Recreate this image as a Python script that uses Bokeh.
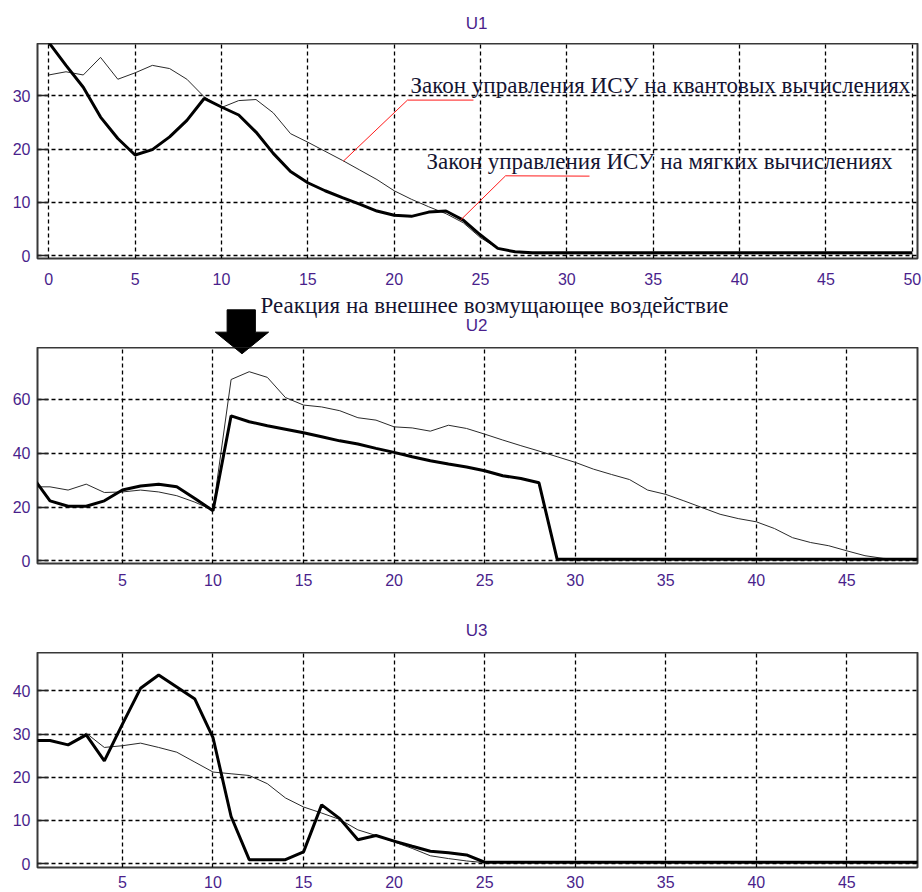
from bokeh.plotting import figure
from bokeh.layouts import column
from bokeh.models import Range1d, FixedTicker, Label
from bokeh.embed import file_html
from bokeh.resources import INLINE

# ---- U1: control law, time steps 0..50 ----
u1_t = list(range(0, 51))
u1_quantum = [33.9, 34.5, 33.9, 37.2, 33.1, 34.3, 35.7, 35.1, 33.1, 29.8,
              27.8, 29.1, 29.3, 26.8, 22.9, 21.3, 19.6, 17.9, 16.1, 14.3,
              12.2, 10.6, 9.2, 7.9, 6.2, 3.4, 1.4, 0.7, 0.4, 0.4,
              0.4, 0.4, 0.4, 0.4, 0.4, 0.4, 0.4, 0.4, 0.4, 0.4,
              0.4, 0.4, 0.4, 0.4, 0.4, 0.4, 0.4, 0.4, 0.4, 0.4, 0.4]
u1_soft = [40.0, 35.7, 31.6, 26.0, 22.0, 18.9, 19.9, 22.3, 25.4, 29.5,
           27.9, 26.4, 23.2, 19.2, 15.8, 13.7, 12.2, 10.9, 9.7, 8.4,
           7.6, 7.4, 8.2, 8.4, 6.7, 3.9, 1.4, 0.75, 0.6, 0.6,
           0.6, 0.6, 0.6, 0.6, 0.6, 0.6, 0.6, 0.6, 0.6, 0.6,
           0.6, 0.6, 0.6, 0.6, 0.6, 0.6, 0.6, 0.6, 0.6, 0.6, 0.6]

# ---- U2: response to an external disturbance, time steps 0..49 ----
u2_t = list(range(0, 50))
u2_quantum = [27.5, 27.5, 26.3, 28.5, 25.4, 25.6, 26.3, 25.6, 24.2, 21.8,
              18.8, 67.4, 70.3, 68.2, 60.7, 57.9, 57.2, 55.8, 53.2, 52.3,
              49.8, 49.4, 48.2, 50.4, 49.2, 47.1, 44.9, 42.8, 40.8, 38.7,
              36.6, 34.1, 32.1, 30.2, 26.3, 24.7, 22.3, 19.8, 17.3, 15.7,
              14.5, 12.0, 8.6, 6.8, 5.6, 3.7, 1.9, 0.9, 0.6, 0.6]
u2_soft = [31.5, 22.3, 20.3, 20.3, 22.3, 26.3, 27.8, 28.5, 27.5, 23.2,
           18.6, 53.9, 51.7, 50.2, 48.9, 47.6, 46.1, 44.6, 43.4, 41.8,
           40.3, 38.7, 37.2, 36.0, 34.9, 33.5, 31.6, 30.6, 29.0, 0.6,
           0.6, 0.6, 0.6, 0.6, 0.6, 0.6, 0.6, 0.6, 0.6, 0.6,
           0.6, 0.6, 0.6, 0.6, 0.6, 0.6, 0.6, 0.6, 0.6, 0.6]

# ---- U3: time steps 0..49 ----
u3_t = list(range(0, 50))
u3_quantum = [28.5, 28.6, 27.5, 30.2, 26.9, 27.3, 27.9, 26.9, 25.8, 23.5,
              21.2, 20.8, 20.4, 18.5, 15.2, 13.1, 11.7, 10.2, 7.8, 6.5,
              5.0, 3.5, 1.8, 1.15, 0.6, 0.2, 0.2, 0.2, 0.2, 0.2,
              0.2, 0.2, 0.2, 0.2, 0.2, 0.2, 0.2, 0.2, 0.2, 0.2,
              0.2, 0.2, 0.2, 0.2, 0.2, 0.2, 0.2, 0.2, 0.2, 0.2]
u3_soft = [28.5, 28.5, 27.5, 29.8, 23.8, 32.3, 40.6, 43.7, 40.9, 38.1,
           29.2, 10.9, 0.9, 0.9, 0.9, 2.7, 13.6, 10.4, 5.5, 6.5,
           5.2, 4.0, 2.85, 2.5, 2.0, 0.3, 0.3, 0.3, 0.3, 0.3,
           0.3, 0.3, 0.3, 0.3, 0.3, 0.3, 0.3, 0.3, 0.3, 0.3,
           0.3, 0.3, 0.3, 0.3, 0.3, 0.3, 0.3, 0.3, 0.3, 0.3]

u1_xticks = [0, 5, 10, 15, 20, 25, 30, 35, 40, 45, 50]
u23_xticks = [5, 10, 15, 20, 25, 30, 35, 40, 45]
u1_yticks = [0, 10, 20, 30]
u2_yticks = [0, 20, 40, 60]
u3_yticks = [0, 10, 20, 30, 40]

LABEL_COLOR = "#4a1f8c"
TEXT_COLOR = "#141432"
SERIF = "Liberation Serif"
SANS = "Liberation Sans"
LEFT, RIGHT = 37, 5


def make_panel(height, bottom, standoff, xr, yr, xticks, yticks):
    p = figure(width=922, height=height, output_backend="svg",
               toolbar_location=None, x_range=Range1d(*xr),
               y_range=Range1d(*yr), min_border_left=LEFT,
               min_border_right=RIGHT, min_border_top=0,
               min_border_bottom=bottom)
    p.background_fill_color = "white"
    p.border_fill_color = "white"
    p.outline_line_color = "#383838"
    p.outline_line_width = 2
    p.xaxis.ticker = FixedTicker(ticks=xticks)
    p.yaxis.ticker = FixedTicker(ticks=yticks)
    p.xgrid.ticker = FixedTicker(ticks=xticks)
    p.ygrid.ticker = FixedTicker(ticks=yticks)
    for g in (p.xgrid, p.ygrid):
        g.grid_line_color = "black"
        g.grid_line_dash = "4 3"
        g.grid_line_width = 1.3
    for ax in (p.xaxis, p.yaxis):
        ax.axis_line_color = None
        ax.minor_tick_line_color = None
        ax.major_tick_out = 0
        ax.major_label_text_font = SANS
        ax.major_label_text_font_size = "16px"
        ax.major_label_text_color = LABEL_COLOR
    p.xaxis.major_tick_in = 0
    p.yaxis.major_tick_in = 11
    p.yaxis.major_tick_line_color = "#222222"
    p.yaxis.major_tick_line_width = 1.5
    p.xaxis.major_label_standoff = standoff
    p.yaxis.major_label_standoff = 7
    return p


def make_band(height, x_range, y_range):
    """Strip above a panel holding its title and free-standing annotations."""
    b = figure(width=922, height=height, output_backend="svg",
               toolbar_location=None, x_range=x_range, y_range=y_range,
               x_axis_type=None, y_axis_type=None,
               min_border_left=LEFT, min_border_right=RIGHT,
               min_border_top=0, min_border_bottom=0)
    b.outline_line_color = None
    b.background_fill_color = "white"
    b.border_fill_color = "white"
    return b


def panel_title(fig, x, y, text):
    fig.add_layout(Label(x=x, y=y, text=text, text_font=SANS,
                         text_font_size="17px", text_color=LABEL_COLOR,
                         text_align="center", text_baseline="middle"))


def caption(fig, x, y, text):
    fig.add_layout(Label(x=x, y=y, text=text, text_font=SERIF,
                         text_font_size="23px", text_color=TEXT_COLOR,
                         text_align="left", text_baseline="alphabetic"))


# ---- U1 panel ----
p1 = make_panel(247, 32, 14, (-0.65, 50.3), (-0.5, 39.8), u1_xticks, u1_yticks)
p1.line(u1_t, u1_quantum, line_color="#2a2a2a", line_width=1)
p1.line(u1_t, u1_soft, line_color="black", line_width=3)
caption(p1, 20.95, 31.85, "Закон управления ИСУ на квантовых вычислениях")
caption(p1, 21.87, 17.65, "Закон управления ИСУ на мягких вычислениях")
p1.line([17.06, 20.77, 24.59], [17.75, 29.19, 29.19], line_color="#ff1a1a", line_width=1)
p1.line([23.84, 26.45, 31.31], [6.69, 15.0, 14.94], line_color="#ff1a1a", line_width=1)

# band 1 uses pixel rows counted from the top
b1 = make_band(43, p1.x_range, Range1d(43, 0))
panel_title(b1, 24.77, 22.5, "U1")

# ---- U2 panel ----
u2_yr = (-1.0, 79.3)
p2 = make_panel(263, 47, 10, (0.31, 48.9), u2_yr, u23_xticks, u2_yticks)
p2.line(u2_t, u2_quantum, line_color="#2a2a2a", line_width=1)
p2.line(u2_t, u2_soft, line_color="black", line_width=3)

# band 2 continues the U2 value scale upward so the arrow spans both
u2_px_per_unit = 216 / (u2_yr[1] - u2_yr[0])
b2 = make_band(57, p2.x_range, Range1d(u2_yr[1], u2_yr[1] + 57 / u2_px_per_unit))
panel_title(b2, 24.55, 87.3, "U2")
caption(b2, 12.63, 94.8, "Реакция на внешнее возмущающее воздействие")
arrow_xs = [10.78, 12.34, 12.34, 13.07, 11.6, 10.13, 10.78]
arrow_ys = [93.3, 93.3, 85.0, 85.0, 76.96, 85.0, 85.0]
for fig in (b2, p2):
    fig.patch(arrow_xs, arrow_ys, fill_color="black", line_color="black",
              line_width=1)

# ---- U3 panel ----
p3 = make_panel(240, 25, 8, (0.31, 48.9), (-0.92, 48.9), u23_xticks, u3_yticks)
p3.line(u3_t, u3_quantum, line_color="#2a2a2a", line_width=1)
p3.line(u3_t, u3_soft, line_color="black", line_width=3)

b3 = make_band(42, p3.x_range, Range1d(42, 0))
panel_title(b3, 24.55, 20, "U3")

layout = column(b1, p1, b2, p2, b3, p3, spacing=0)
open("out.html", "w").write(file_html(layout, INLINE))
